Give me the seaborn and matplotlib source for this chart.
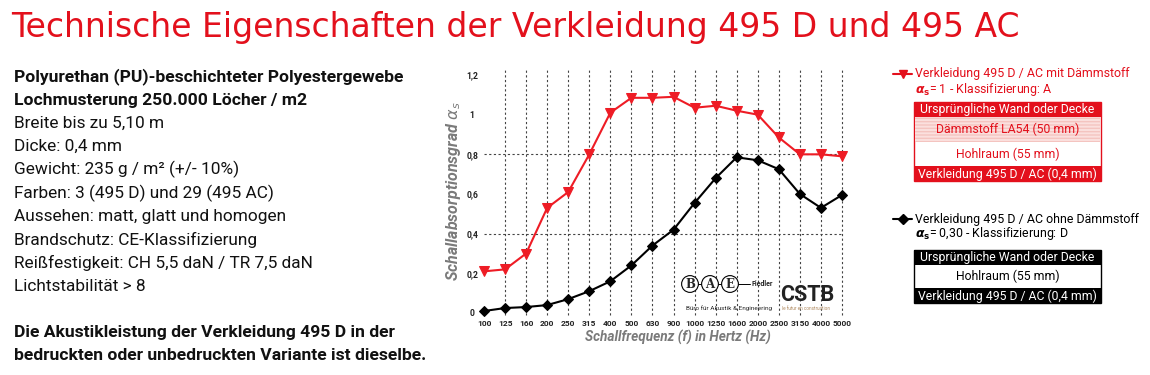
import matplotlib
matplotlib.use("Agg")
import matplotlib.pyplot as plt
import seaborn as sns
from matplotlib.patches import Rectangle
from matplotlib.lines import Line2D

# ---------------- data ----------------
frequencies = ["100", "125", "160", "200", "250", "315", "400", "500", "630", "900",
               "1000", "1250", "1600", "2000", "2500", "3150", "4000", "5000"]
mit_daemmstoff = [0.21, 0.22, 0.30, 0.53, 0.61, 0.80, 1.01, 1.085, 1.085, 1.09,
                  1.035, 1.045, 1.02, 1.00, 0.885, 0.80, 0.80, 0.79]
ohne_daemmstoff = [0.01, 0.025, 0.03, 0.04, 0.07, 0.11, 0.16, 0.24, 0.34, 0.42,
                   0.555, 0.68, 0.785, 0.77, 0.725, 0.60, 0.53, 0.595]
y_ticks = [0, 0.2, 0.4, 0.6, 0.8, 1.0, 1.2]
y_tick_labels = ["0", "0,2", "0,4", "0,6", "0,8", "1", "1,2"]

title = "Technische Eigenschaften der Verkleidung 495 D und 495 AC"
spec_bold = ["Polyurethan (PU)-beschichteter Polyestergewebe",
             "Lochmusterung 250.000 Löcher / m2"]
spec_lines = ["Breite bis zu 5,10 m", "Dicke: 0,4 mm", "Gewicht: 235 g / m² (+/- 10%)",
              "Farben: 3 (495 D) und 29 (495 AC)", "Aussehen: matt, glatt und homogen",
              "Brandschutz: CE-Klassifizierung", "Reißfestigkeit: CH 5,5 daN / TR 7,5 daN",
              "Lichtstabilität > 8"]
note_bold = ["Die Akustikleistung der Verkleidung 495 D in der",
             "bedruckten oder unbedruckten Variante ist dieselbe."]

RED = "#e3101c"
LINE_RED = "#ee1c25"
GRAY = "#7a7a7a"

W, H = 1150, 375
sns.set_style("white")
plt.rcParams["font.family"] = ["Roboto", "DejaVu Sans"]

fig = plt.figure(figsize=(W / 100, H / 100), dpi=100)

def fx(x):
    return x / W

def fy(y):
    return 1 - y / H

# ---------------- chart ----------------
ax = fig.add_axes([fx(484), fy(313), (842 - 484) / W, (313 - 75) / H])
sns.lineplot(x=frequencies, y=mit_daemmstoff, sort=False, ax=ax, color=LINE_RED,
             marker="v", markersize=7, markeredgecolor=LINE_RED, linewidth=1.5,
             clip_on=False, zorder=5)
sns.lineplot(x=frequencies, y=ohne_daemmstoff, sort=False, ax=ax, color="black",
             marker="D", markersize=5.5, markeredgecolor="black", linewidth=1.5,
             clip_on=False, zorder=5)
ax.set_xlim(0, len(frequencies) - 1)
ax.set_ylim(0, 1.2)
for s in ax.spines.values():
    s.set_visible(False)
ax.grid(False)
ax.vlines(range(1, len(frequencies)), -0.01, 1.23, colors="#444444",
          linestyles=(0, (2, 2.2)), linewidth=0.8, clip_on=False, zorder=1)
ax.hlines([0.4, 0.8], 0, len(frequencies) - 1, colors="#444444",
          linestyles=(0, (2, 2.2)), linewidth=0.8, zorder=1)
ax.set_yticks(y_ticks)
ax.set_yticklabels(y_tick_labels)
ax.tick_params(axis="both", length=0)
ax.tick_params(axis="y", pad=8.5)
ax.tick_params(axis="x", pad=5)
for lab in ax.get_yticklabels():
    lab.set_fontsize(6.2)
    lab.set_fontweight("bold")
    lab.set_color("#222222")
    lab.set_horizontalalignment("center")
for lab in ax.get_xticklabels():
    lab.set_fontsize(6)
    lab.set_fontweight("bold")
    lab.set_color("#222222")

ax.set_xlabel("Schallfrequenz (f) in Hertz (Hz)", fontsize=9.8, fontweight="bold",
              fontstyle="italic", color=GRAY)
ax.xaxis.set_label_coords((678 - 484) / 358, -(330 - 313) / 238)
ax.set_ylabel(r"Schallabsorptionsgrad $\alpha_s$", fontsize=11.5, fontweight="bold",
              fontstyle="italic", color=GRAY)
ax.yaxis.set_label_coords((463 - 484) / 358, (313 - 191) / 238)

# logos
for letter, cx in zip("BAE", [690, 710, 730]):
    fig.text(fx(cx), fy(284), letter, ha="center", va="center", fontsize=8.5,
             fontweight="bold", family="DejaVu Serif",
             bbox=dict(boxstyle="circle,pad=0.16", fc="white", ec="black", lw=0.8),
             zorder=6)
fig.add_artist(Line2D([fx(690), fx(750)], [fy(284), fy(284)], color="black", lw=0.7, zorder=5))
fig.text(fx(752), fy(284), "Fiedler", ha="left", va="center", fontsize=5, fontweight="bold")
fig.text(fx(686), fy(308), "Büro für Akustik & Engineering", ha="left", va="center",
         fontsize=4.6)
fig.text(fx(807), fy(295), "CSTB", ha="center", va="center", fontsize=15.5,
         fontweight="bold", color="#222222")
fig.text(fx(782), fy(308), "le futur en construction", ha="left", va="center",
         fontsize=3.3, color="#b08a60")

# ---------------- title ----------------
fig.text(fx(11), fy(27), title, ha="left", va="center", fontsize=23.8,
         family="DejaVu Sans", color=RED)

# ---------------- left text ----------------
y = 77
for line in spec_bold:
    fig.text(fx(14), fy(y), line, ha="left", va="center", fontsize=12.6,
             fontweight="bold", color="#111111")
    y += 23.5
y = 123
for line in spec_lines:
    fig.text(fx(14), fy(y), line, ha="left", va="center", fontsize=12.4,
             color="#111111")
    y += 23.4
for line, yy in zip(note_bold, [333, 356]):
    fig.text(fx(14), fy(yy), line, ha="left", va="center", fontsize=12.6,
             fontweight="bold", color="#111111")

# ---------------- legend boxes ----------------
def rect(x0, y0, x1, y1, **kw):
    fig.add_artist(Rectangle((fx(x0), fy(y1)), fx(x1) - fx(x0), fy(y0) - fy(y1),
                             transform=fig.transFigure, **kw))

def legend_entry(yline, color, marker, ms, text1, text2):
    fig.add_artist(Line2D([fx(893), fx(912)], [fy(yline), fy(yline)], color=color,
                          lw=1.5, transform=fig.transFigure))
    fig.add_artist(Line2D([fx(903)], [fy(yline)], color=color, marker=marker,
                          markersize=ms, transform=fig.transFigure))
    fig.text(fx(915), fy(yline), text1, ha="left", va="center", fontsize=8.9, color=color)
    fig.text(fx(915), fy(yline + 15), text2, ha="left", va="center", fontsize=8.9,
             color=color)

legend_entry(74, RED, "v", 6, "Verkleidung 495 D / AC mit Dämmstoff",
             r"$\boldsymbol{\alpha}_{\mathbf{s}}$= 1 - Klassifizierung: A")
legend_entry(219, "black", "D", 5, "Verkleidung 495 D / AC ohne Dämmstoff",
             r"$\boldsymbol{\alpha}_{\mathbf{s}}$= 0,30 - Klassifizierung: D")

bx0, bx1 = 914, 1101
bxc = (bx0 + bx1) / 2
# red construction box
rect(bx0, 102, bx1, 181, fc="white", ec=RED, lw=1.0)
rect(bx0, 102, bx1, 117, fc=RED, ec=RED, lw=0)
rect(bx0 + 1, 117, bx1 - 1, 142, fc="#fbe0de", ec="#f4c4c0", lw=0, hatch="-----")
rect(bx0, 166, bx1, 181, fc=RED, ec=RED, lw=0)
fig.text(fx(bxc), fy(109.5), "Ursprüngliche Wand oder Decke", ha="center", va="center",
         fontsize=8.8, color="white")
fig.text(fx(bxc), fy(129), "Dämmstoff LA54 (50 mm)", ha="center", va="center",
         fontsize=8.8, color=RED)
fig.text(fx(bxc), fy(154), "Hohlraum (55 mm)", ha="center", va="center",
         fontsize=8.8, color=RED)
fig.text(fx(bxc), fy(174), "Verkleidung 495 D / AC (0,4 mm)", ha="center", va="center",
         fontsize=8.8, color="white")

# black construction box
rect(bx0, 250, bx1, 303, fc="white", ec="black", lw=1.0)
rect(bx0, 250, bx1, 265, fc="black", ec="black", lw=0)
rect(bx0, 288, bx1, 303, fc="black", ec="black", lw=0)
fig.text(fx(bxc), fy(257.5), "Ursprüngliche Wand oder Decke", ha="center", va="center",
         fontsize=8.8, color="white")
fig.text(fx(bxc), fy(276), "Hohlraum (55 mm)", ha="center", va="center",
         fontsize=8.8, color="black")
fig.text(fx(bxc), fy(296), "Verkleidung 495 D / AC (0,4 mm)", ha="center", va="center",
         fontsize=8.8, color="white")

fig.savefig("out.png", dpi=100, facecolor="white")
